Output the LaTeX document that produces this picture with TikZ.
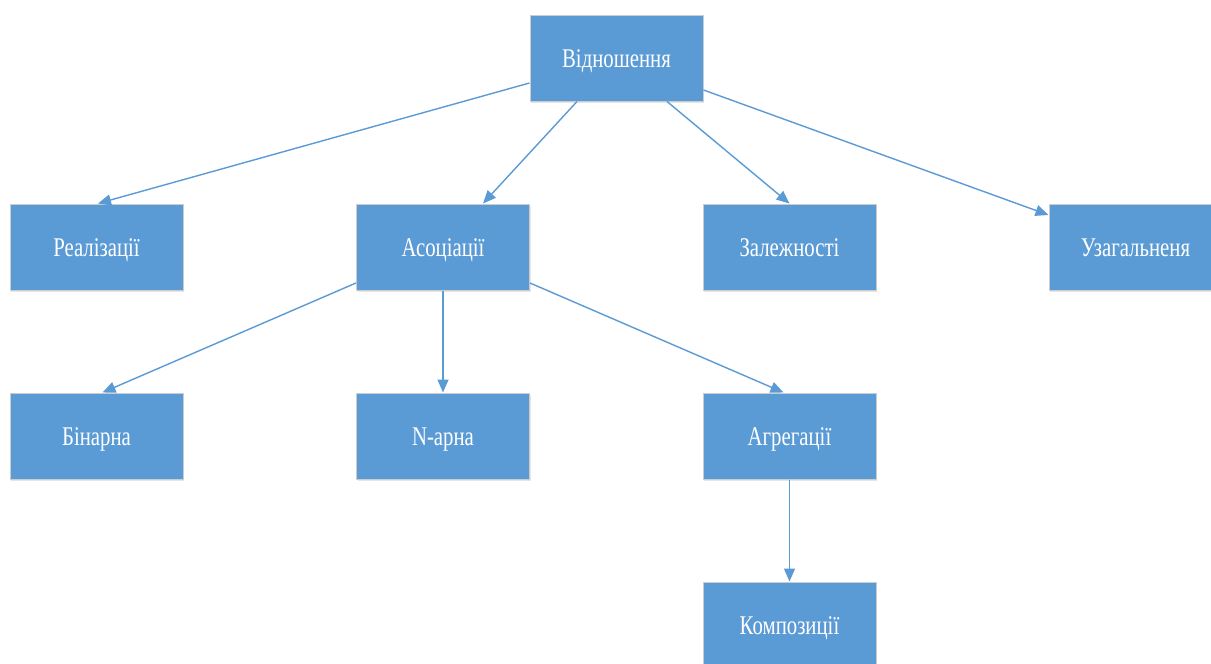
\documentclass[tikz,border=0pt]{standalone}
\usepackage{fontspec}
\setmainfont{Liberation Serif}[FakeStretch=0.77]
\usetikzlibrary{arrows.meta,shadows}
\definecolor{boxblue}{HTML}{5B9BD5}
\definecolor{boxrim}{HTML}{CCCCCC}
\tikzset{
  x=1pt, y=-1pt,
  block/.style={rectangle, fill=boxblue, draw=boxrim, line width=1pt,
    minimum width=173pt, minimum height=86pt, inner sep=0pt,
    text height=20pt, text depth=2pt,
    text=white, font=\fontsize{27}{30}\selectfont,
    drop shadow={shadow xshift=1pt, shadow yshift=-2pt, opacity=0.10, fill=black}},
  link/.style={draw=boxblue, line width=1.4pt, -{Triangle[length=13pt,width=11pt]}}
}
\begin{document}
\begin{tikzpicture}
\useasboundingbox (0,0) rectangle (1211,664);
\clip (0,0) rectangle (1211,664);
\fill[white] (0,0) rectangle (1211,664);

% hierarchy of relation kinds
\node[block] (root)  at (616.5,58)   {Відношення};
\node[block] (real)  at (96.5,247)   {Реалізації};
\node[block] (asoc)  at (443,247)    {Асоціації};
\node[block] (zal)   at (789.5,247)  {Залежності};
\node[block] (uzag)  at (1135.5,247) {Узагальненя};
\node[block] (bin)   at (96.5,436)   {Бінарна};
\node[block] (narn)  at (443,436)    {N-арна};
\node[block] (agr)   at (789.5,436)  {Агрегації};
\node[block] (komp)  at (789.5,625)  {Композиції};

\draw[link] ([yshift=-25pt]root.west) -- ([xshift=1.5pt]real.north);
\draw[link] ([xshift=-39.5pt]root.south) -- ([xshift=40pt]asoc.north);
\draw[link] ([xshift=50.5pt]root.south) -- (zal.north);
\draw[link] ([yshift=-32pt]root.east) -- ([yshift=32pt]uzag.west);

\draw[link] ([yshift=-36pt]asoc.west) -- ([xshift=6pt]bin.north);
\draw[link] (asoc.south) -- (narn.north);
\draw[link] ([yshift=-36pt]asoc.east) -- ([xshift=-6pt]agr.north);

\draw[link] (agr.south) -- (komp.north);
\end{tikzpicture}
\end{document}
